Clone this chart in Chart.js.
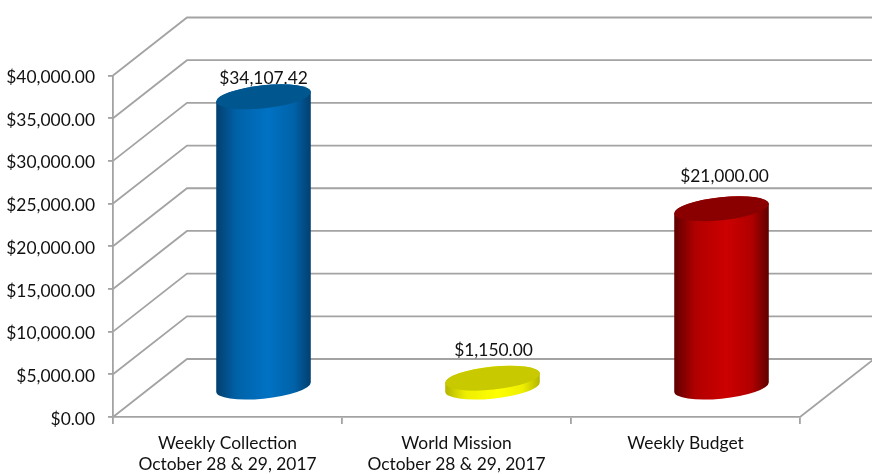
<!DOCTYPE html>
<html>
<head>
<meta charset="utf-8">
<title>Weekly Collection</title>
<script src="https://cdn.jsdelivr.net/npm/chart.js@4"></script>
<style>
  html, body { margin: 0; padding: 0; background: #fff; }
  canvas { display: block; }
</style>
</head>
<body>
<canvas id="myChart" width="872" height="474"></canvas>
<script>
// data
var categories = [
  ["Weekly Collection", "October 28 & 29, 2017"],
  ["World Mission", "October 28 & 29, 2017"],
  "Weekly Budget"
];
var amounts = [34107.42, 1150, 21000];
var sideColors = [
  ["#033f6e", "#0062a8", "#0072c4", "#0062a8", "#033f6e"],
  ["#b4b400", "#eeee00", "#ffff00", "#eeee00", "#b4b400"],
  ["#5e0000", "#b00000", "#cc0000", "#b00000", "#5e0000"]
];
var topColors = ["#00578f", "#c9c900", "#8a0000"];

var FONT = "Lato";
var TEXT = "#111111";
var LINE = "#a3a3a3";
var DEPTH_X = 74, DEPTH_Y = 58;

function money(v) {
  return "$" + Number(v).toLocaleString("en-US", { minimumFractionDigits: 2, maximumFractionDigits: 2 });
}

// fake 3D walls, labels and cylinders on top of the real scales
var fake3d = {
  id: "fake3d",
  beforeDraw(chart) {
    // value labels sit a little under their tick marks
    chart.scales.y.getLabelItems().forEach(item => {
      item.options.translation[1] += 2;
    });
  },
  beforeDatasetsDraw(chart) {
    const ctx = chart.ctx;
    const yScale = chart.scales.y;
    const area = chart.chartArea;
    ctx.save();
    ctx.strokeStyle = LINE;
    ctx.lineWidth = 1.8;
    yScale.ticks.forEach(t => {
      const y = yScale.getPixelForValue(t.value);
      ctx.beginPath();
      ctx.moveTo(area.left, y);
      ctx.lineTo(area.left + DEPTH_X, y - DEPTH_Y);
      ctx.lineTo(chart.width + 2, y - DEPTH_Y);
      ctx.stroke();
    });
    // right edge of the floor
    ctx.beginPath();
    ctx.moveTo(area.right, area.bottom);
    ctx.lineTo(area.right + DEPTH_X, area.bottom - DEPTH_Y);
    ctx.stroke();
    ctx.restore();
  },
  afterDatasetsDraw(chart) {
    const ctx = chart.ctx;
    const bars = chart.getDatasetMeta(0).data;
    const lift = [18, 28, 32];
    const nudge = [0, 1, 3];

    // labels go first, the blue cylinder cuts into its own label
    ctx.save();
    ctx.font = "17.4px " + FONT;
    ctx.fillStyle = TEXT;
    ctx.textAlign = "center";
    ctx.textBaseline = "middle";
    bars.forEach((bar, i) => {
      ctx.fillText(money(amounts[i]), bar.x + DEPTH_X / 2 + nudge[i] - 1, bar.y - DEPTH_Y / 2 - lift[i]);
    });
    ctx.restore();

    bars.forEach((bar, i) => {
      const cx = bar.x + DEPTH_X / 2 - 1;
      const topY = bar.y - DEPTH_Y / 2;
      const baseY = bar.base - DEPTH_Y / 2;
      const rx = bar.width / 2, ry = 11.5, rot = -6 * Math.PI / 180;
      const t0 = Math.atan(-ry * Math.sin(rot) / (rx * Math.cos(rot)));

      const g = ctx.createLinearGradient(cx - rx, 0, cx + rx, 0);
      g.addColorStop(0, sideColors[i][0]);
      g.addColorStop(0.22, sideColors[i][1]);
      g.addColorStop(0.55, sideColors[i][2]);
      g.addColorStop(0.82, sideColors[i][3]);
      g.addColorStop(1, sideColors[i][4]);

      ctx.save();
      ctx.beginPath();
      ctx.ellipse(cx, baseY, rx, ry, rot, t0, t0 + Math.PI);
      ctx.ellipse(cx, topY, rx, ry, rot, t0 + Math.PI, t0 + 2 * Math.PI);
      ctx.closePath();
      ctx.fillStyle = g;
      ctx.fill();

      ctx.beginPath();
      ctx.ellipse(cx, topY, rx, ry, rot, 0, 2 * Math.PI);
      ctx.fillStyle = topColors[i];
      ctx.fill();
      ctx.restore();
    });
  }
};

var myChart = new Chart(document.getElementById("myChart").getContext("2d"), {
  type: "bar",
  data: {
    labels: categories,
    datasets: [{
      data: amounts,
      backgroundColor: "rgba(0,0,0,0)",
      barPercentage: 0.415,
      categoryPercentage: 1
    }]
  },
  options: {
    responsive: false,
    animation: false,
    layout: { padding: { top: 75.5, right: 72, left: 0, bottom: 0 } },
    plugins: { legend: { display: false }, tooltip: { enabled: false } },
    scales: {
      x: {
        afterFit: s => { s.height = 57; },
        grid: { drawOnChartArea: false, drawTicks: true, tickLength: 7, color: LINE, lineWidth: 1.8 },
        border: { color: LINE, width: 1.8 },
        ticks: { color: TEXT, font: { family: FONT, size: 17.4, lineHeight: 1.22 }, padding: 9, maxRotation: 0, autoSkip: false }
      },
      y: {
        min: 0,
        max: 40000,
        afterFit: s => { s.width = 113; },
        grid: { drawOnChartArea: false, drawTicks: true, tickLength: 5, color: LINE, lineWidth: 1.8 },
        border: { color: LINE, width: 1.8 },
        ticks: { stepSize: 5000, color: TEXT, font: { family: FONT, size: 17.4 }, padding: 13, callback: v => money(v) }
      }
    }
  },
  plugins: [fake3d]
});
</script>
</body>
</html>
